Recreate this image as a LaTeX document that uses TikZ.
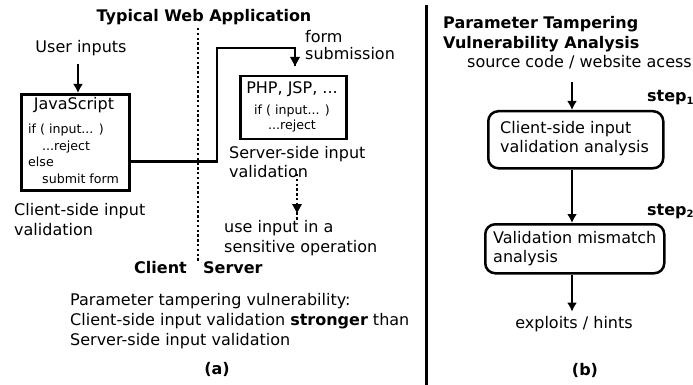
\documentclass[tikz,border=0pt]{standalone}
\usepackage{fontspec}
\setmainfont{DejaVu Sans}
\usetikzlibrary{arrows.meta}
\newcommand{\stepidx}[1]{\raisebox{-2.5pt}{\fontsize{10}{10}\selectfont #1}}
\begin{document}
\begin{tikzpicture}[x=1pt,y=-1pt,
  txt/.style={inner sep=0pt,font=\fontsize{16}{19}\selectfont},
  code/.style={inner sep=0pt,font=\fontsize{12.6}{15}\selectfont},
  hd/.style={inner sep=0pt,font=\fontsize{16}{19}\selectfont\bfseries},
  conn/.style={line width=2.5pt},
  arr/.style={line width=2pt,-{Latex[length=9pt,width=10pt]}},
  dots/.style={line width=2.6pt,dash pattern=on 2.4pt off 2.4pt},
  sqbox/.style={draw,line width=3pt,inner sep=0pt,anchor=north west},
  rbox/.style={draw,line width=2.5pt,rounded corners=10pt,inner sep=0pt,anchor=north west}]
\useasboundingbox (0,0) rectangle (693,385);

% ---------- (a) client / server ----------
\node[hd,anchor=base] (title) at (204,22) {Typical Web Application};
\coordinate (divtop) at (198,28);
\coordinate (divbot) at (198,262);
\draw[dots] (divtop) -- (divbot);

\node[txt,anchor=base] (user) at (81,53) {User inputs};
\node[sqbox,minimum width=108pt,minimum height=96pt] (js) at (20,93) {};
\draw[arr] (user.south) ++(-3,7) coordinate (ua) (ua) -- (js.north -| ua);

\node[txt,anchor=base] (jsname) at (74,110) {JavaScript};
\node[code,anchor=base west] (j1) at (28,133) {if ( input... )};
\node[code,anchor=base west] (j2) at (42,150) {...reject};
\node[code,anchor=base west] (j3) at (28,166) {else};
\node[code,anchor=base west] (j4) at (42,183) {submit form};

\node[txt,anchor=base west] (clbl) at (14,215) {Client-side input};
\node[txt,anchor=base west] (clbl2) at (14,235) {validation};

\node[sqbox,line width=2.5pt,minimum width=106pt,minimum height=63pt] (php) at (239,75) {};
\node[txt,anchor=base] (phpname) at (292,94) {PHP, JSP, ...};
\node[code,anchor=base] (p1) at (292,115) {if ( input... )};
\node[code,anchor=base] (p2) at (292,130) {...reject};

\node[txt,anchor=base west] (form) at (305,43) {form};
\node[txt,anchor=base west] (subm) at (305,60) {submission};

\coordinate (bend) at (217,48);
\coordinate (phpin) at (295,66);
\draw[conn] ([yshift=-19pt]js.east) -| (bend) -| (phpin);
\fill (phpin) ++(-5,-9) -- ++(10,0) -- (phpin) -- cycle;

\node[txt,anchor=base west] (slbl) at (229,158) {Server-side input};
\node[txt,anchor=base west] (slbl2) at (229,177) {validation};

\coordinate (ds) at (297,174);
\coordinate (de) at (297,213);
\draw[dots,line width=2.4pt] (ds) -- ([yshift=-8pt]de);
\fill (de) ++(-5,-9) -- ++(10,0) -- (de) -- cycle;

\node[txt,anchor=base west] (use1) at (224,232) {use input in a};
\node[txt,anchor=base west] (use2) at (224,252) {sensitive operation};

\node[hd,anchor=base east] (client) at (187,273) {Client};
\node[hd,anchor=base west] (server) at (203,273) {Server};

\node[txt,anchor=base west] (v1) at (70,305) {Parameter tampering vulnerability:};
\node[txt,anchor=base west] (v2) at (70,325) {Client-side input validation \textbf{stronger} than};
\node[txt,anchor=base west] (v3) at (70,345) {Server-side input validation};

\node[hd,anchor=base] (capa) at (217,374) {(a)};

% ---------- separator ----------
\coordinate (septop) at (426,5);
\coordinate (sepbot) at (426,385);
\draw[line width=3pt] (septop) -- (sepbot);

% ---------- (b) analysis steps ----------
\node[hd,anchor=base west] (bt1) at (443,29) {Parameter Tampering};
\node[hd,anchor=base west] (bt2) at (443,49) {Vulnerability Analysis};
\node[txt,anchor=base west] (src) at (467,68) {source code / website acess};

\node[rbox,minimum width=175pt,minimum height=57pt] (s1) at (487,110) {};
\node[txt,anchor=base west] (s1a) at (500,133) {Client-side input};
\node[txt,anchor=base west] (s1b) at (500,153) {validation analysis};
\node[hd,anchor=base west] (st1) at (647,102) {step\stepidx{1}};

\node[rbox,minimum width=179pt,minimum height=49pt] (s2) at (484,223) {};
\node[txt,anchor=base west] (s2a) at (493,243) {Validation mismatch};
\node[txt,anchor=base west] (s2b) at (493,262) {analysis};
\node[hd,anchor=base west] (st2) at (647,215) {step\stepidx{2}};

\node[txt,anchor=base] (out) at (574,328) {exploits / hints};

\coordinate (a0) at (572,82);
\draw[arr] (a0) -- (a0 |- s1.north);
\draw[arr] (s1.south -| a0) -- (s2.north -| a0);
\draw[arr] (s2.south -| a0) -- ([yshift=4pt]out.north -| a0);

\node[hd,anchor=base] (capb) at (585,375) {(b)};
\end{tikzpicture}
\end{document}
